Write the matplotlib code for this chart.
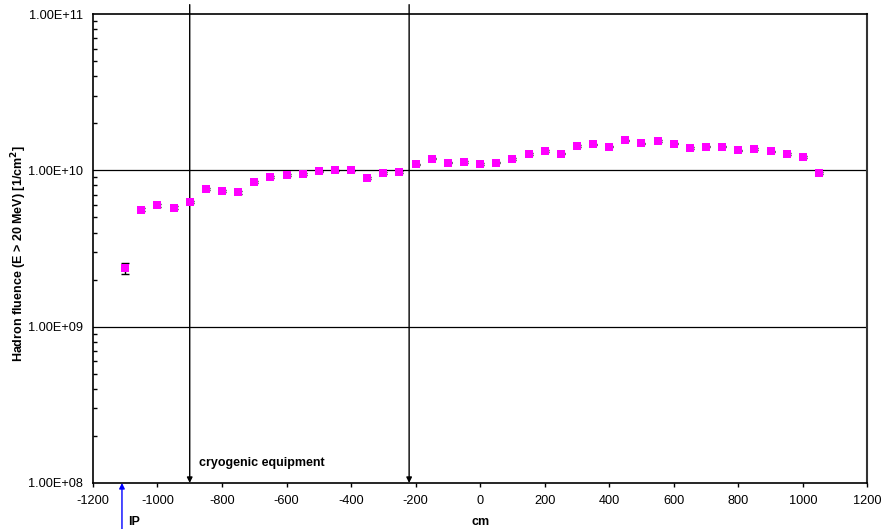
import numpy as np
import matplotlib
matplotlib.use('Agg')
import matplotlib.pyplot as plt
from matplotlib.ticker import FixedLocator, FuncFormatter, LogLocator, NullFormatter

plt.rcParams['font.family'] = ['Liberation Sans', 'DejaVu Sans']
plt.rcParams['axes.unicode_minus'] = False

# position along beam [cm]
pos = [-1100, -1050, -1000, -950, -900, -850, -800, -750, -700, -650, -600,
       -550, -500, -450, -400, -350, -300, -250, -200, -150, -100, -50, 0,
       50, 100, 150, 200, 250, 300, 350, 400, 450, 500, 550, 600, 650, 700,
       750, 800, 850, 900, 950, 1000, 1050]
# hadron fluence [1e9 / cm^2]
fluence = [2.37, 5.60, 5.96, 5.77, 6.29, 7.59, 7.40, 7.22, 8.45, 9.02, 9.37,
           9.47, 9.85, 10.0, 10.0, 8.88, 9.57, 9.75, 10.9, 11.9, 11.2, 11.3, 11.0,
           11.2, 11.8, 12.7, 13.3, 12.8, 14.3, 14.7, 14.2, 15.6, 14.9, 15.4, 14.8, 13.9, 14.2,
           14.2, 13.4, 13.7, 13.2, 12.7, 12.2, 9.57]
fluence_err = [0.20] + [0.12] * 43

cryo_start = -900
cryo_end = -220
ip_pos = -1110

x = np.array(pos)
y = np.array(fluence) * 1e9
yerr = np.array(fluence_err) * 1e9

fig = plt.figure(figsize=(8.85, 5.29), dpi=100)
ax = fig.add_axes([0.105, 0.087, 0.875, 0.8865])

ax.errorbar(x, y, yerr=yerr, fmt='none', ecolor='black', elinewidth=1, capsize=3, capthick=1, zorder=3)
ax.plot(x, y, 's', color='#ff00ff', markersize=6, markeredgewidth=0, zorder=4)

ax.set_yscale('log')
ax.set_ylim(1e8, 1e11)
ax.set_xlim(-1200, 1200)

# horizontal gridlines at decades only
for v in [1e9, 1e10]:
    ax.axhline(v, color='black', linewidth=0.9, zorder=1)

ax.xaxis.set_major_locator(FixedLocator(np.arange(-1200, 1201, 200)))
ax.yaxis.set_major_locator(FixedLocator([1e8, 1e9, 1e10, 1e11]))
ax.yaxis.set_major_formatter(FuncFormatter(lambda v, p: '%.2E' % v))
ax.yaxis.set_minor_locator(LogLocator(base=10, subs=np.arange(2, 10)))
ax.yaxis.set_minor_formatter(NullFormatter())
ax.tick_params(axis='x', direction='out', length=3, width=1, labelsize=9.2, pad=6)
ax.tick_params(axis='y', which='major', direction='in', length=0, labelsize=9.2, pad=7)
ax.tick_params(axis='y', which='minor', direction='in', length=3, width=1)

for s in ['left', 'top', 'bottom']:
    ax.spines[s].set_linewidth(1.2)
    ax.spines[s].set_color('black')
ax.spines['right'].set_linewidth(1.5)
ax.spines['right'].set_color('#333333')

ax.set_ylabel('Hadron fluence (E > 20 MeV) [1/cm$^\\mathbf{2}$]', fontsize=9, fontweight='bold')
ax.yaxis.set_label_coords(-0.083, 0.49)

# vertical arrows marking the cryogenic equipment region
for xv in [cryo_start, cryo_end]:
    ax.annotate('', xy=(xv, 1e8), xycoords='data',
                xytext=(xv, 1.02), textcoords=('data', 'axes fraction'),
                arrowprops=dict(arrowstyle='-|>', color='black', lw=1, mutation_scale=8,
                                shrinkA=0, shrinkB=0), annotation_clip=False)
ax.text(cryo_start + 28, 1.35e8, 'cryogenic equipment', fontsize=9, fontweight='bold',
        ha='left', va='center')

# IP arrow from below the axis
ax.annotate('', xy=(ip_pos, 1e8), xycoords='data',
            xytext=(ip_pos, -0.1), textcoords=('data', 'axes fraction'),
            arrowprops=dict(arrowstyle='-|>', color='blue', lw=1, mutation_scale=8,
                            shrinkA=0, shrinkB=0), annotation_clip=False)
ax.text(ip_pos + 18, -0.084, 'IP', transform=ax.get_xaxis_transform(), fontsize=9,
        fontweight='bold', ha='left', va='center')
ax.text(0, -0.084, 'cm', transform=ax.get_xaxis_transform(), fontsize=9,
        fontweight='bold', ha='center', va='center')

fig.savefig('out.png', dpi=100)
